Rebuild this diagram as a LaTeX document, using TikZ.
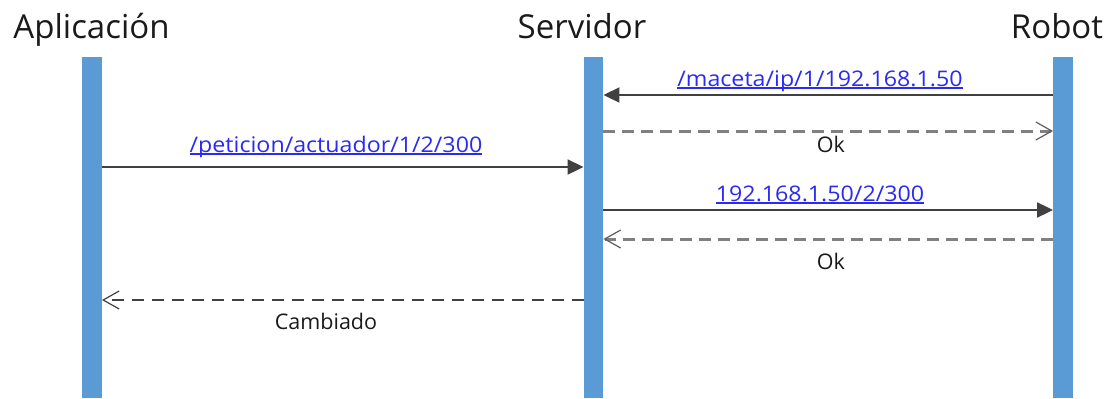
\documentclass[tikz,border=0pt]{standalone}
\usepackage{graphicx}
\usepackage{fontspec}
\setmainfont{Open Sans}
\usetikzlibrary{arrows.meta}

\definecolor{barblue}{HTML}{5B9BD5}
\definecolor{linkblue}{HTML}{2A2AF2}
\definecolor{callgray}{HTML}{404040}
\definecolor{replygray}{HTML}{808080}
\definecolor{titleink}{HTML}{1A1A1A}

% underlined link-style text, slightly widened, rule drawn through the descenders
\newcommand\linktext[1]{\setbox0\hbox{\scalebox{1.08}[1]{#1}}\rlap{\rule[-2.5bp]{\wd0}{1.1bp}}\box0}

\begin{document}
\begin{tikzpicture}[x=1bp,y=-1bp,
  title/.style={font=\fontsize{33bp}{40bp}\selectfont, text=titleink, anchor=base, inner sep=0},
  lifebar/.style={fill=barblue, draw=none, minimum width=19.5bp, minimum height=341bp, inner sep=0},
  msglabel/.style={font=\fontsize{21.5bp}{26bp}\selectfont, anchor=base, inner sep=0},
  link/.style={msglabel, text=linkblue},
  plain/.style={msglabel, text=titleink},
  call/.style={draw=callgray, line width=2bp, -{Triangle[length=16bp,width=15bp]}},
  reply/.style={draw=replygray, line width=3bp, dash pattern=on 12bp off 7bp,
    -{Straight Barb[length=16bp,width=18bp,line width=1.2bp,color=callgray!85]}},
  answer/.style={draw=callgray, line width=1.6bp, dash pattern=on 12bp off 8bp,
    -{Straight Barb[length=16bp,width=18bp,line width=1.2bp]}}]

  \useasboundingbox (0,0) rectangle (1113,398);

  % participants
  \node[title] (tapp) at (91.5,38) {Aplicación};
  \node[title] (tsrv) at (582,38) {Servidor};
  \node[title] (trob) at (1057,38) {Robot};

  % lifelines
  \node[lifebar] (la) at (92,227.5) {};
  \node[lifebar] (ls) at (593.5,227.5) {};
  \node[lifebar] (lr) at (1063,227.5) {};

  % message levels
  \coordinate (m1) at (0,95);
  \coordinate (m2) at (0,131);
  \coordinate (m3) at (0,167);
  \coordinate (m4) at (0,210);
  \coordinate (m5) at (0,239);
  \coordinate (m6) at (0,300);

  % messages
  \draw[call]  (lr.west |- m1) -- (ls.east |- m1);
  \draw[reply] (ls.east |- m2) -- (lr.west |- m2);
  \draw[call]  (la.east |- m3) -- (ls.west |- m3);
  \draw[call]  (ls.east |- m4) -- (lr.west |- m4);
  \draw[reply] (lr.west |- m5) -- (ls.east |- m5);
  \draw[answer] (ls.west |- m6) -- (la.east |- m6);

  % message labels
  \node[link]  (l1) at (820,86)  {\linktext{/maceta/ip/1/192.168.1.50}};
  \node[plain] (l2) at (831,152) {Ok};
  \node[link]  (l3) at (336,152) {\linktext{/peticion/actuador/1/2/300}};
  \node[link]  (l4) at (820,201) {\linktext{192.168.1.50/2/300}};
  \node[plain] (l5) at (831,269) {Ok};
  \node[plain] (l6) at (326,329) {Cambiado};
\end{tikzpicture}
\end{document}
